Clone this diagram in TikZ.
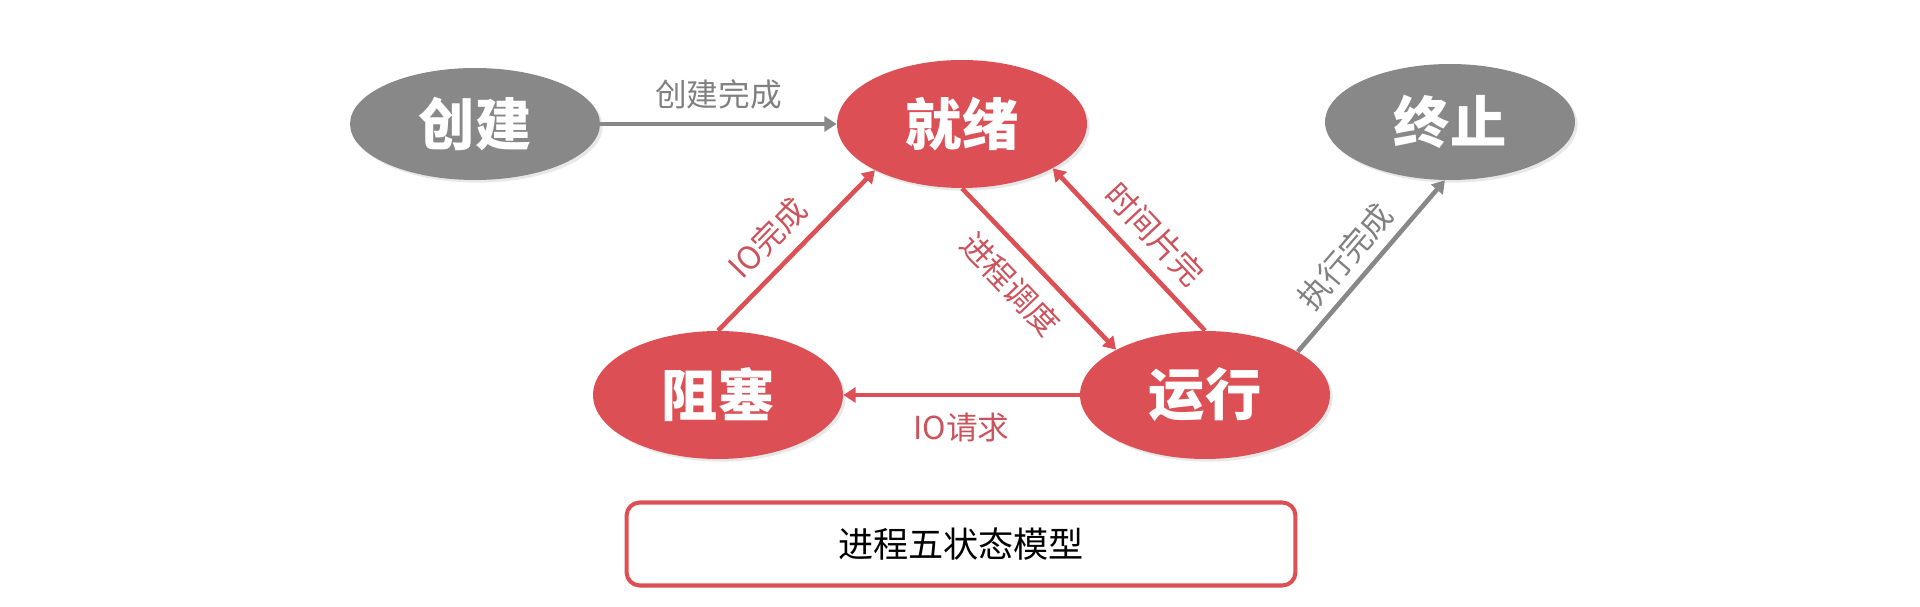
\documentclass[tikz,border=0pt]{standalone}
\usepackage{fontspec}
\setmainfont{Noto Sans CJK SC}
\newfontfamily\heavycjk{Noto Sans CJK SC Black}
\usetikzlibrary{arrows.meta,shapes.geometric,shadows}
\definecolor{stred}{RGB}{220,80,85}
\definecolor{stgray}{RGB}{136,136,136}
\definecolor{lbred}{RGB}{204,82,92}
\definecolor{lbgray}{RGB}{128,128,128}
\tikzset{
  state/.style={ellipse,minimum width=5cm,minimum height=2.56cm,inner sep=0pt,text=white,
    font=\fontsize{32}{32}\heavycjk,
    drop shadow={opacity=0.18,shadow xshift=1.5pt,shadow yshift=-1.5pt}},
  redarr/.style={draw=stred,line width=2.6pt,-{Triangle[length=7pt,width=8.5pt]}},
  grayarr/.style={draw=stgray,line width=2.6pt,-{Triangle[length=7pt,width=8.5pt]}},
  lbl/.style={font=\fontsize{18}{18}\selectfont,inner sep=1pt,text=lbred},
}
\begin{document}
\begin{tikzpicture}[x=0.02cm,y=-0.02cm]
\useasboundingbox (0,0) rectangle (1920,607);
% states
\node[state,fill=stgray,minimum height=2.24cm] (create) at (475,124) {创建};
\node[state,fill=stred] (ready) at (962,124) {就绪};
\node[state,fill=stgray,minimum height=2.32cm] (exit) at (1450,122) {终止};
\node[state,fill=stred] (block) at (718,395) {阻塞};
\node[state,fill=stred] (run) at (1205,395) {运行};
% transitions
\draw[grayarr] (create) -- (ready) node[lbl,text=lbgray,midway,above=6pt] (l1) {创建完成};
\draw[redarr] (block.north) -- (ready.208) node[lbl,pos=0.45,sloped,above=6pt] (l2) {IO完成};
\draw[redarr] (ready.south) -- (run.153) node[lbl,pos=0.46,sloped,below=7pt] (l3) {进程调度};
\draw[redarr] (run.north) -- (ready.334) node[lbl,pos=0.47,sloped,above=6pt] (l4) {时间片完};
\draw[redarr] (run.west) -- (block.east) node[lbl,midway,below=8pt] (l5) {IO请求};
\draw[grayarr] (run.25) -- (exit.265) node[lbl,text=lbgray,pos=0.455,sloped,above=4pt] (l6) {执行完成};
% caption
\node[draw=stred,line width=2.3pt,fill=white,rounded corners=7.5pt,minimum width=13.38cm,minimum height=1.66cm,
  font=\fontsize{20}{20}\selectfont,drop shadow={opacity=0.12,shadow xshift=1pt,shadow yshift=-1pt}] (model) at (961,544) {进程五状态模型};
\end{tikzpicture}
\end{document}
